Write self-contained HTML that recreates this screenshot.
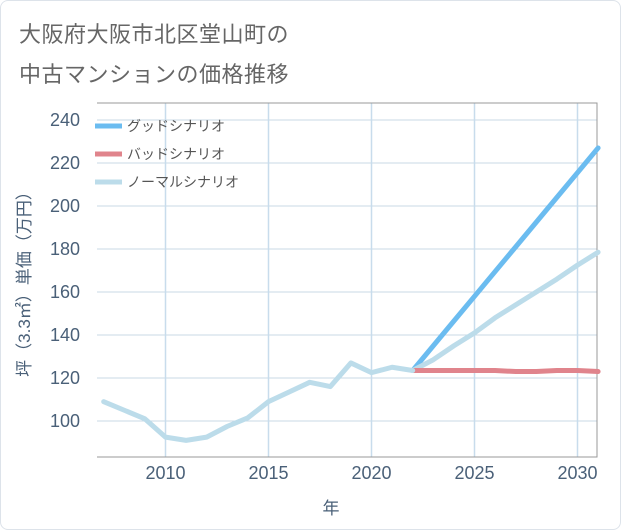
<!DOCTYPE html>
<html><head><meta charset="utf-8">
<style>
body{margin:0;background:#fff;}
#wrap{position:relative;width:619px;height:528px;border:1px solid #dde3ea;border-radius:8px;background:#fff;overflow:hidden;}
.t{position:absolute;left:18px;font:22px "Liberation Sans","Noto Sans CJK JP",sans-serif;color:#666;letter-spacing:0.5px;}
svg text{font-family:"Liberation Sans","Noto Sans CJK JP",sans-serif;}
</style></head><body>
<div id="wrap">
<div class="t" style="top:16px">大阪府大阪市北区堂山町の</div>
<div class="t" style="top:56px">中古マンションの価格推移</div>
<svg id="chart" width="621" height="530" style="position:absolute;left:-1px;top:-1px"></svg>
</div>
<script>
const years=[2007,2008,2009,2010,2011,2012,2013,2014,2015,2016,2017,2018,2019,2020,2021,2022];
const histValues=[109,105,101,92.5,91,92.5,97.5,101.5,109,113.5,118,116,127,122.5,125,123.5];
const futureYears=[2022,2023,2024,2025,2026,2027,2028,2029,2030,2031];
const goodValues=[123.5,135,146.5,158,169.5,181,192.5,204,215.5,227];
const badValues=[123.5,123.5,123.5,123.5,123.5,123,123,123.5,123.5,123];
const normalValues=[123.5,128.5,135,141,148,154,160,166,172.5,178.5];
const xTicks=[2010,2015,2020,2025,2030];
const yTicks=[100,120,140,160,180,200,220,240];
const L=97,R=597,T=103,B=457;
const x=v=>165.5+(v-2010)*20.6;
const y=v=>421-(v-100)*2.15;
const svg=document.getElementById('chart');
const NS='http://www.w3.org/2000/svg';
function mk(tag,a){const e=document.createElementNS(NS,tag);for(const k in a)e.setAttribute(k,a[k]);svg.appendChild(e);return e;}
yTicks.forEach(t=>{const l=mk('line',{x1:L,x2:R,y1:y(t),y2:y(t),stroke:'#c8d8e6','stroke-width':1});


const tx=mk('text',{x:80,y:y(t)+6,'text-anchor':'end','font-size':18,fill:'#4a6078'});tx.textContent=t;

});
xTicks.forEach(t=>{const l=mk('line',{x1:x(t),x2:x(t),y1:T,y2:B,stroke:'#c8dcec','stroke-width':1.5});


const tx=mk('text',{x:x(t),y:479,'text-anchor':'middle','font-size':18,fill:'#4a6078'});tx.textContent=t;

});
const ax=mk('path',{d:`M${L} ${T}H${R}V${B}H${L}`,fill:'none',stroke:'#999','stroke-width':1});


function line(xs,vs,c,w,name){const p=mk('polyline',{points:xs.map((a,i)=>x(a)+','+y(vs[i])).join(' '),fill:'none',stroke:c,'stroke-width':w,'stroke-linejoin':'round','stroke-linecap':'round'});

}
line(futureYears,goodValues,'#6bbcf0',5,'good-scenario-line');
line(futureYears,normalValues,'#bcdcea',5,'normal-scenario-line');
line(futureYears,badValues,'#e0848c',5,'bad-scenario-line');
line(years,histValues,'#bcdcea',5,'history-line');
const leg=[['グッドシナリオ','#6bbcf0'],['バッドシナリオ','#e0848c'],['ノーマルシナリオ','#bcdcea']];
leg.forEach((d,i)=>{const yy=126+i*28;
const l=mk('line',{x1:95,x2:122,y1:yy,y2:yy,stroke:d[1],'stroke-width':5});


const t=mk('text',{x:127,y:yy+5,'font-size':14,fill:'#555'});t.textContent=d[0];

});
const xt=mk('text',{x:331,y:514,'text-anchor':'middle','font-size':17,fill:'#4a6078'});xt.textContent='年';


const yt=mk('text',{x:0,y:0,'text-anchor':'middle','font-size':17,fill:'#4a6078',transform:'translate(30,280) rotate(-90)'});yt.textContent='坪（3.3㎡）単価（万円）';


</script>
</body></html>
